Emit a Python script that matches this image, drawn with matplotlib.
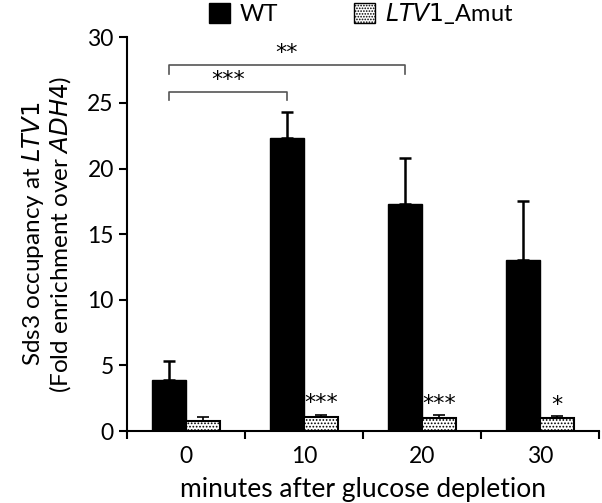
import matplotlib.pyplot as plt
import numpy as np
from matplotlib.patches import Patch

plt.rcParams['font.family'] = ['Lato', 'DejaVu Sans']
plt.rcParams['hatch.linewidth'] = 0.8

timepoints = ['0', '10', '20', '30']
wt_mean = [3.9, 22.3, 17.3, 13.0]
wt_err = [1.4, 2.0, 3.5, 4.5]
mut_mean = [0.8, 1.1, 1.0, 1.0]
mut_err = [0.3, 0.15, 0.2, 0.15]
mut_stars = ['', '***', '***', '*']

fig = plt.figure(figsize=(6.02, 5.03), dpi=100)
ax = fig.add_axes([0.211, 0.143, 0.784, 0.783])

x = np.arange(len(timepoints))
w = 0.29
ax.bar(x - w/2, wt_mean, w, color='black', edgecolor='black', lw=1)
ax.errorbar(x - w/2, wt_mean, yerr=[np.zeros(4), wt_err], fmt='none',
            ecolor='black', elinewidth=1.8, capsize=4, capthick=1.8)
ax.bar(x + w/2, mut_mean, w, color='white', edgecolor='black', lw=1.5, hatch='.....')
ax.errorbar(x + w/2, mut_mean, yerr=[np.zeros(4), mut_err], fmt='none',
            ecolor='black', elinewidth=1.2, capsize=4, capthick=1.2)

for i, s in enumerate(mut_stars):
    if s:
        ax.text(x[i] + w/2, mut_mean[i] + mut_err[i] + 0.1, s, ha='center', va='bottom',
                fontsize=16, family='DejaVu Sans')

# significance brackets
def bracket(x1, x2, y, h, label):
    ax.plot([x1, x1, x2, x2], [y - h, y, y, y - h], color='#555555', lw=1.2)
    ax.text((x1 + x2) / 2, y + 0.15, label, ha='center', va='bottom', fontsize=16,
            family='DejaVu Sans')

bracket(x[0] - w/2, x[1] - w/2, 25.8, 0.6, '***')
bracket(x[0] - w/2, x[2] - w/2, 27.9, 0.7, '**')

ax.set_xlim(-0.5, 3.5)
ax.set_ylim(0, 30)
ax.set_yticks(range(0, 31, 5))
ax.set_xticks(x)
ax.set_xticklabels(timepoints)
ax.set_xticks(np.arange(-0.5, 4, 1), minor=True)
ax.tick_params(axis='x', which='major', length=0, labelsize=16.5, pad=11)
ax.tick_params(axis='x', which='minor', length=6, width=1.5, direction='out')
ax.tick_params(axis='y', length=6, width=1.5, direction='out', labelsize=16.5)
ax.spines['top'].set_visible(False)
ax.spines['right'].set_visible(False)
ax.spines['left'].set_linewidth(1.5)
ax.spines['bottom'].set_linewidth(1.5)

ax.set_xlabel('minutes after glucose depletion', fontsize=19, labelpad=7)
ax.set_ylabel('Sds3 occupancy at $\\it{LTV1}$\n(Fold enrichment over $\\it{ADH4}$)',
              fontsize=17.5, labelpad=10, linespacing=1.1)

handles = [Patch(facecolor='black', edgecolor='black'),
           Patch(facecolor='white', edgecolor='black', hatch='......')]
fig.legend(handles, ['WT', '$\\it{LTV1}$_Amut'], loc='upper center',
           bbox_to_anchor=(0.6, 1.04), ncol=2, frameon=False, fontsize=17,
           handlelength=0.9, handleheight=0.9, columnspacing=3.2, handletextpad=0.4)

fig.savefig('out.png', dpi=100)
